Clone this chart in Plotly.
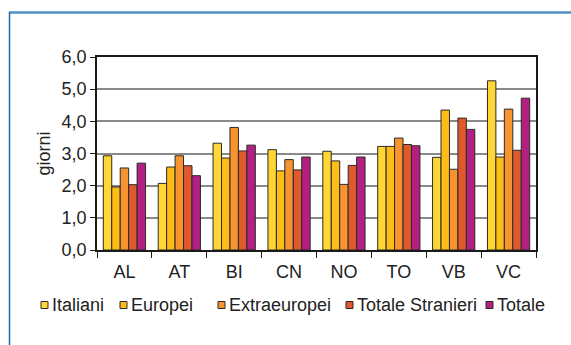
import plotly.graph_objects as go

# Province e giorni medi di permanenza per gruppo di provenienza
province = ["AL", "AT", "BI", "CN", "NO", "TO", "VB", "VC"]
italiani = [2.93, 2.07, 3.32, 3.12, 3.07, 3.22, 2.88, 5.26]
europei = [1.96, 2.58, 2.86, 2.46, 2.77, 3.22, 4.35, 2.89]
extraeuropei = [2.55, 2.93, 3.81, 2.81, 2.04, 3.48, 2.51, 4.38]
totale_stranieri = [2.03, 2.62, 3.08, 2.49, 2.63, 3.28, 4.10, 3.10]
totale = [2.70, 2.31, 3.26, 2.89, 2.89, 3.24, 3.75, 4.72]

y_ticks = [0, 1, 2, 3, 4, 5, 6]

series = [
    ("Italiani", italiani, "#FFD633"),
    ("Europei", europei, "#FDBD16"),
    ("Extraeuropei", extraeuropei, "#F7942F"),
    ("Totale Stranieri", totale_stranieri, "#DE5A2C"),
    ("Totale", totale, "#B41F82"),
]

FONT = "Liberation Sans, Arial, sans-serif"
TXT = "#222222"
EDGE = "#2a2a2a"
FS = 18

W, H = 571, 345
L, R, T, B = 97, 35, 57, 95
pw, ph = W - L - R, H - T - B


def px_x(x):
    return (x - L) / pw


def px_y(y):
    return (H - B - y) / ph


fig = go.Figure()
for name, vals, col in series:
    fig.add_trace(go.Bar(
        x=province, y=vals, name=name,
        marker=dict(color=col, line=dict(color=EDGE, width=1)),
    ))

# legend row under the axis: small swatch followed by the series name
key_swatch_x = [41, 120, 218, 346, 486]
key_y = 305
shapes = [
    dict(type="line", xref="paper", yref="paper",
         x0=px_x(9), x1=px_x(580), y0=px_y(12.5), y1=px_y(12.5),
         line=dict(color="#5190c4", width=2.5)),
    dict(type="line", xref="paper", yref="paper",
         x0=px_x(9.5), x1=px_x(9.5), y0=px_y(12), y1=px_y(360),
         line=dict(color="#2567b0", width=1.5)),
]
annotations = []
for (name, _, col), sx in zip(series, key_swatch_x):
    shapes.append(dict(
        type="rect", xref="paper", yref="paper",
        x0=px_x(sx), x1=px_x(sx + 7), y0=px_y(key_y - 3.5), y1=px_y(key_y + 3.5),
        fillcolor=col, line=dict(color=EDGE, width=1),
    ))
    annotations.append(dict(
        text=name, xref="paper", yref="paper",
        x=px_x(sx + 9), y=px_y(key_y), xanchor="left", yanchor="middle",
        showarrow=False, font=dict(family=FONT, size=FS, color=TXT),
    ))

fig.update_layout(
    width=W, height=H,
    margin=dict(l=L, r=R, t=T, b=B, pad=0),
    paper_bgcolor="white", plot_bgcolor="white",
    barmode="group", bargap=0.23, bargroupgap=0,
    separators=",.",
    font=dict(family=FONT, size=FS, color=TXT),
    showlegend=False,
    xaxis=dict(
        type="category", showline=True, linecolor="#1a1a1a", linewidth=1.5,
        mirror=True, ticks="outside", tickson="boundaries", ticklen=6,
        tickcolor="#1a1a1a", tickwidth=1, showgrid=False,
        ticklabelstandoff=5,
        tickfont=dict(family=FONT, size=FS, color=TXT),
    ),
    yaxis=dict(
        range=[0, 6], tickvals=y_ticks, tickformat=".1f",
        showline=True, linecolor="#1a1a1a", linewidth=1.5, mirror=True,
        ticks="outside", ticklen=5, tickcolor="#1a1a1a", tickwidth=1,
        showgrid=True, gridcolor="#8a8a8a", gridwidth=1.5, zeroline=False,
        tickfont=dict(family=FONT, size=FS, color=TXT),
        title=dict(text="giorni", font=dict(family=FONT, size=FS, color=TXT), standoff=6),
    ),
    shapes=shapes,
    annotations=annotations,
)

fig.write_html("out.html")
